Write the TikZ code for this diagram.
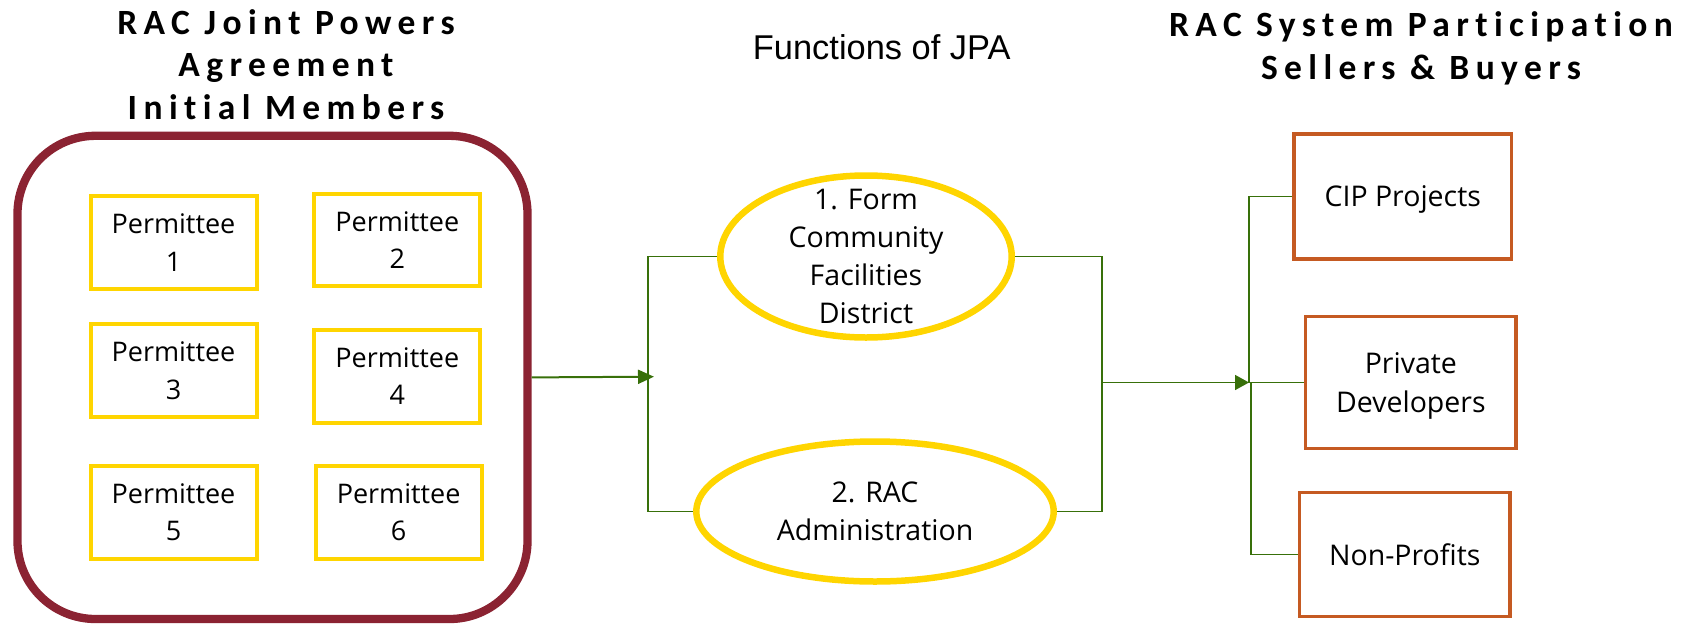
\documentclass[tikz,border=0pt]{standalone}
\usepackage{fontspec}
\setmainfont{Open Sans}
\newfontfamily\titlefont{Carlito}[LetterSpace=18,Ligatures={NoCommon,NoRequired,NoContextual}]
\newfontfamily\arialfont{Liberation Sans}
\usetikzlibrary{shapes.geometric,arrows.meta}
\definecolor{maroonc}{HTML}{8B2332}
\definecolor{yellowc}{HTML}{FFD500}
\definecolor{orangec}{HTML}{C55A22}
\definecolor{greenc}{HTML}{38700A}
\tikzset{
  titletext/.style={anchor=base,inner sep=0,font=\titlefont\bfseries\fontsize{35.5}{42.5}\selectfont},
  outerbox/.style={draw=maroonc,line width=8.3pt,rounded corners=78pt,inner sep=0},
  pbox/.style={draw=yellowc,line width=4pt,minimum width=166pt,minimum height=92.5pt,inner sep=0,align=center,font=\fontsize{27}{37.4}\selectfont},
  obox/.style={draw=orangec,line width=3.5pt,inner sep=0,align=center,text depth=0pt,font=\fontsize{28.5}{38.5}\selectfont},
  ell/.style={ellipse,draw=yellowc,line width=6.5pt,inner sep=0},
  elltext/.style={inner sep=0,align=center,font=\fontsize{28.5}{38}\selectfont},
  bus/.style={draw=greenc,line width=1.6pt},
  arrin/.style={draw=greenc,line width=2pt,-{Triangle[length=16pt,width=14pt]}},
  arrout/.style={draw=greenc,line width=1.6pt,-{Triangle[length=14pt,width=15pt]}}
}
\begin{document}
\begin{tikzpicture}[x=1pt,y=-1pt]
\useasboundingbox (0,0) rectangle (1683,624);
% titles
\node[titletext] (tl1) at (286,34.3) {RAC Joint Powers};
\node[titletext] (tl2) at (286,76.7) {Agreement};
\node[titletext] (tl3) at (286,119.3) {Initial Members};
\node[anchor=base,inner sep=0,font=\arialfont\fontsize{34.4}{40}\selectfont] (tm) at (881.7,59.3) {Functions of JPA};
\node[titletext] (tr1) at (1421,36) {RAC System Participation};
\node[titletext] (tr2) at (1421,79.3) {Sellers \& Buyers};
% left group
\node[outerbox,minimum width=510pt,minimum height=483.2pt] (ob) at (272.5,377.4) {};
\node[pbox] (p1) at (173.5,242.65) {Permittee\\1};
\node[pbox] (p2) at (397.3,240) {Permittee\\2};
\node[pbox] (p3) at (173.5,370.65) {Permittee\\3};
\node[pbox] (p4) at (397.3,376.35) {Permittee\\4};
\node[pbox] (p5) at (173.5,512.5) {Permittee\\5};
\node[pbox] (p6) at (398.65,512.5) {Permittee\\6};
% middle
\node[ell,minimum width=291.4pt,minimum height=162pt] (e1) at (866,256.5) {};
\node[elltext] (e1t) at (e1.center) {1. Form\\Community\\Facilities\\District};
\node[ell,minimum width=357.4pt,minimum height=140pt] (e2) at (875,511.5) {};
\node[elltext] (e2t) at (e2.center) {2. RAC\\Administration};
% right
\node[obox,minimum width=217.5pt,minimum height=125pt] (cip) at (1402.75,196.5) {CIP Projects};
\node[obox,minimum width=210.3pt,minimum height=131.6pt] (pd) at (1410.85,382.5) {Private\\Developers};
\node[obox,minimum width=210.5pt,minimum height=124.2pt] (np) at (1404.75,554.5) {Non-Profits};
% junctions
\coordinate (jin) at (648,376.7);
\coordinate (jtip) at (654,376.7);
\coordinate (jout) at (1102,382.5);
\coordinate (jr) at (1249,382.5);
\coordinate (jr2) at (1250.7,382.5);
% connectors
\draw[arrin] (ob.east) -- (jtip);
\draw[bus] (e1.west) -| (jin) |- (e2.west);
\draw[bus] (e1.east) -| (jout) |- (e2.east);
\draw[arrout] (jout) -- (jr);
\draw[bus] (jr) |- (cip.west);
\draw[bus] (jr) -- (pd.west);
\draw[bus] (jr2) |- (np.west);
\end{tikzpicture}
\end{document}
